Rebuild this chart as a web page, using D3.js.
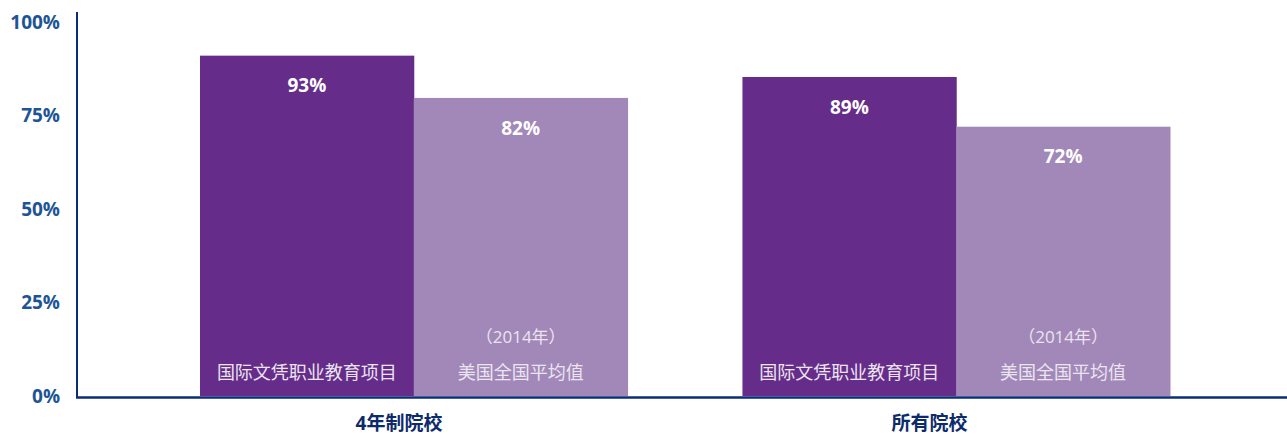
<!DOCTYPE html>
<html>
<head>
<meta charset="utf-8">
<script src="https://cdn.jsdelivr.net/npm/d3@7/dist/d3.min.js"></script>
<style>
  html, body { margin: 0; padding: 0; background: #fff; }
  svg { display: block; }
  text { font-family: "Open Sans", "Noto Sans CJK SC", sans-serif; }
</style>
</head>
<body>
<svg id="chart" width="1287" height="435"></svg>
<script>
// ---- data ----
const categories = ["4年制院校", "所有院校"];
const seriesNames = ["国际文凭职业教育项目", "美国全国平均值"];
const seriesNotes = ["", "（2014年）"];
const ibValues = [91, 85.3];          // bar heights as drawn
const usValues = [79.7, 72];
const ibLabels = ["93%", "89%"];     // printed labels
const usLabels = ["82%", "72%"];
const yTicks = [0, 25, 50, 75, 100];
const yTickLabels = ["0%", "25%", "50%", "75%", "100%"];
const colors = ["#652d89", "#a288b8"];

// ---- layout ----
const W = 1287, H = 435;
const svg = d3.select("#chart");

const y = d3.scaleLinear().domain([0, 100]).range([396, 22]);
const x0 = d3.scaleBand().domain(categories).range([200, 1170]).paddingInner(0.2118).paddingOuter(0);
const x1 = d3.scaleBand().domain([0, 1]).range([0, x0.bandwidth()]).padding(0);
const xLabel = d3.scalePoint().domain(categories).range([399, 929.5]);

const rows = categories.map((c, i) => ({
  cat: c,
  bars: [
    { s: 0, v: ibValues[i], label: ibLabels[i] },
    { s: 1, v: usValues[i], label: usLabels[i] }
  ]
}));

const groups = svg.selectAll("g.grp").data(rows).join("g")
  .attr("class", "grp")
  .attr("transform", d => `translate(${x0(d.cat)},0)`);

const bar = groups.selectAll("g.bar").data(d => d.bars).join("g").attr("class", "bar");

bar.append("rect")
  .attr("x", d => x1(d.s))
  .attr("y", d => y(d.v))
  .attr("width", x1.bandwidth() + 0.5)
  .attr("height", d => y(0) - y(d.v))
  .attr("fill", d => colors[d.s]);

bar.append("text")
  .attr("x", d => x1(d.s) + x1.bandwidth() / 2)
  .attr("y", d => y(d.v) + 30)
  .attr("dy", "0.35em")
  .attr("text-anchor", "middle")
  .attr("fill", "#ffffff")
  .attr("font-weight", "bold")
  .attr("font-size", 19)
  .text(d => d.label);

bar.append("text")
  .attr("x", d => x1(d.s) + x1.bandwidth() / 2)
  .attr("y", y(0) - 23)
  .attr("dy", "0.35em")
  .attr("text-anchor", "middle")
  .attr("fill", "#ebe4f0")
  .attr("font-size", 18)
  .text(d => seriesNames[d.s]);

bar.filter(d => seriesNotes[d.s] !== "").append("text")
  .attr("x", d => x1(d.s) + x1.bandwidth() / 2)
  .attr("y", y(0) - 59)
  .attr("dy", "0.35em")
  .attr("text-anchor", "middle")
  .attr("fill", "#ebe4f0")
  .attr("font-size", 17)
  .text(d => seriesNotes[d.s]);

// y axis tick labels
const yAxis = d3.axisLeft(y).tickValues(yTicks).tickSize(0).tickPadding(17)
  .tickFormat((d, i) => yTickLabels[i]);
const gy = svg.append("g").attr("transform", "translate(77,0)").call(yAxis);
gy.select(".domain").remove();
gy.selectAll("text")
  .attr("font-size", 19)
  .attr("font-weight", "bold")
  .attr("fill", "#1d5594")
  .attr("font-family", "'Open Sans', sans-serif");

// axis lines
svg.append("line").attr("x1", 77).attr("x2", 77).attr("y1", 12).attr("y2", 398)
  .attr("stroke", "#0b2c78").attr("stroke-width", 2);
svg.append("line").attr("x1", 76).attr("x2", W).attr("y1", 397.5).attr("y2", 397.5)
  .attr("stroke", "#0b2c78").attr("stroke-width", 2.6);

// category labels
svg.selectAll("text.cat").data(categories).join("text")
  .attr("class", "cat")
  .attr("x", d => xLabel(d))
  .attr("y", 423)
  .attr("dy", "0.35em")
  .attr("text-anchor", "middle")
  .attr("font-weight", "bold")
  .attr("font-size", 19)
  .attr("fill", "#0d2b6b")
  .text(d => d);
</script>
</body>
</html>
